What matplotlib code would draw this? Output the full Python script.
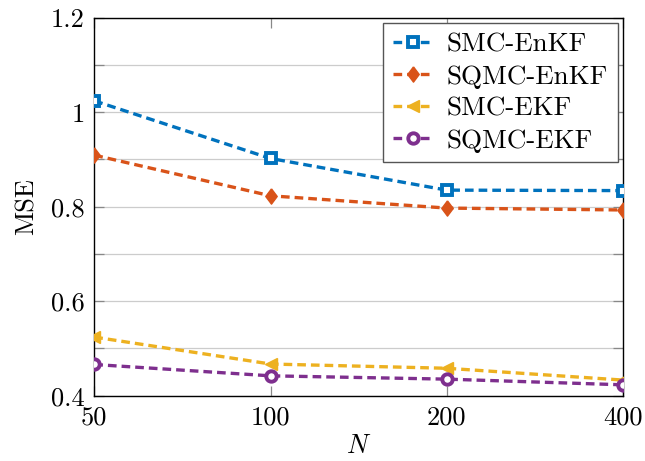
import numpy as np
import matplotlib.pyplot as plt
from matplotlib.ticker import FixedLocator, MultipleLocator, NullFormatter

plt.rcParams["font.family"] = "serif"
plt.rcParams["font.serif"] = ["cmr10", "DejaVu Serif"]
plt.rcParams["mathtext.fontset"] = "cm"
plt.rcParams["axes.formatter.use_mathtext"] = True

# particle counts and mean squared errors per filter
n_particles = [50, 100, 200, 400]
smc_enkf = [1.024, 0.902, 0.835, 0.834]
sqmc_enkf = [0.909, 0.823, 0.797, 0.793]
smc_ekf = [0.524, 0.467, 0.458, 0.433]
sqmc_ekf = [0.466, 0.442, 0.435, 0.423]

x_labels = ["50", "100", "200", "400"]
y_ticks = [0.4, 0.6, 0.8, 1.0, 1.2]
y_labels = ["0.4", "0.6", "0.8", "1", "1.2"]

# slightly narrow diamond like the pgfplots one
diamond = [(0, 1), (0.75, 0), (0, -1), (-0.75, 0), (0, 1)]

fig = plt.figure(figsize=(6.45, 4.61), dpi=100)
ax = fig.add_axes([0.1462, 0.1417, 0.8197, 0.820])

dash = (0, (2.6, 1.5))
ax.plot(n_particles, smc_enkf, linestyle=dash, lw=2.4, color="#0072BD",
        marker="s", ms=7.5, mfc="white", mec="#0072BD", mew=2.8, label="SMC-EnKF", zorder=4)
ax.plot(n_particles, sqmc_enkf, linestyle=dash, lw=2.4, color="#D95319",
        marker=diamond, ms=11, mfc="#D95319", mec="#D95319", label="SQMC-EnKF", zorder=4)
ax.plot(n_particles, smc_ekf, linestyle=dash, lw=2.4, color="#EDB120",
        marker="<", ms=9, mfc="#EDB120", mec="#EDB120", label="SMC-EKF", zorder=3)
ax.plot(n_particles, sqmc_ekf, linestyle=dash, lw=2.4, color="#7E2F8E",
        marker="o", ms=7.5, mfc="white", mec="#7E2F8E", mew=2.8, label="SQMC-EKF", zorder=4)

ax.set_xscale("log", base=2)
ax.set_xlim(50, 400)
ax.xaxis.set_major_locator(FixedLocator(n_particles))
ax.set_xticklabels(x_labels)
ax.xaxis.set_minor_formatter(NullFormatter())
ax.xaxis.set_minor_locator(FixedLocator([]))

ax.set_ylim(0.4, 1.2)
ax.set_yticks(y_ticks)
ax.set_yticklabels(y_labels)
ax.yaxis.set_minor_locator(MultipleLocator(0.1))
ax.grid(True, axis="y", which="both", color="#cccccc", lw=0.9, zorder=0)

ax.tick_params(which="both", direction="in", top=True, right=True,
               length=7, width=0.9, color="#888888", labelsize=19)
ax.tick_params(axis="y", pad=7)
ax.tick_params(axis="x", pad=7)
for s in ax.spines.values():
    s.set_linewidth(1.0)

ax.set_xlabel("$N$", fontsize=19, labelpad=4)
ax.set_ylabel("MSE", fontsize=19, labelpad=9)

leg = ax.legend(loc="upper right", fontsize=19.5, fancybox=False, framealpha=1,
                edgecolor="#555555", handlelength=1.5, borderpad=0.35,
                labelspacing=0.3, handletextpad=0.5, borderaxespad=0.2)
leg.get_frame().set_linewidth(1.0)

fig.savefig("out.png", dpi=100)
